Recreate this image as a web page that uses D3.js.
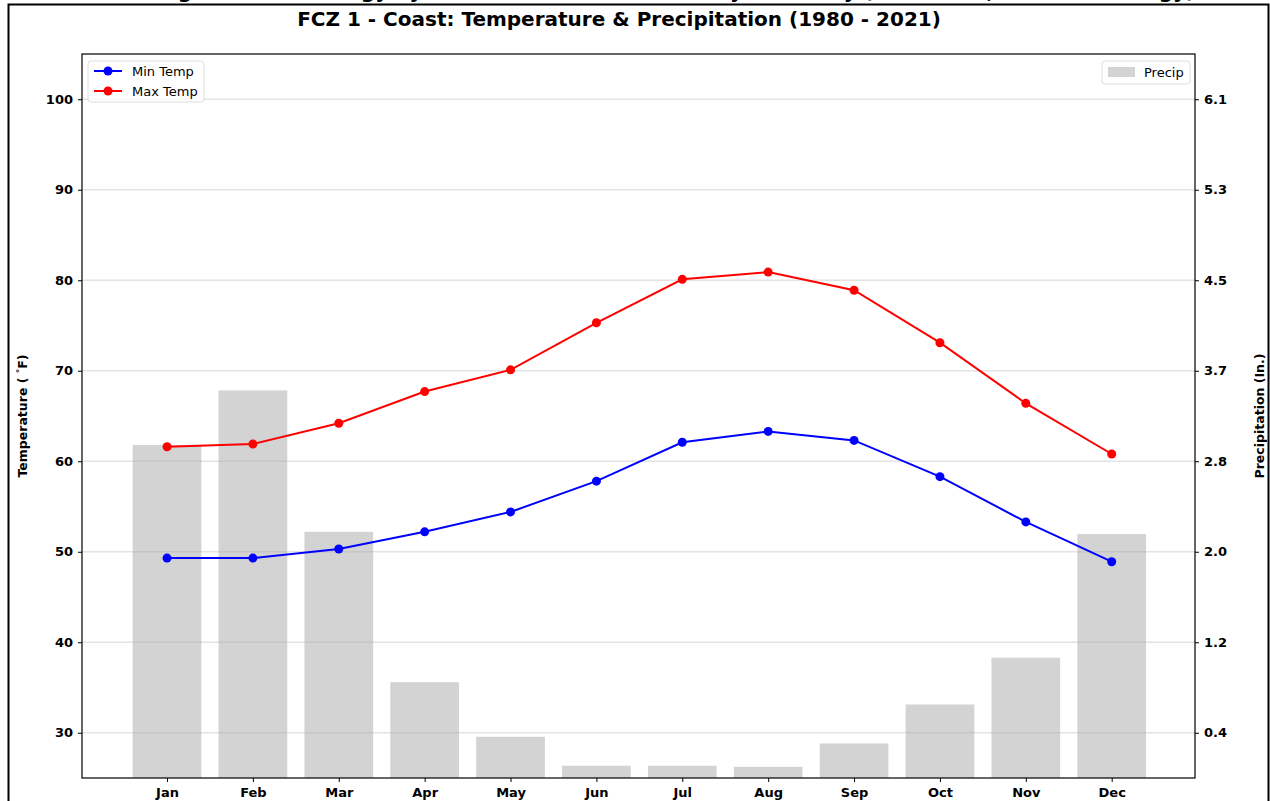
<!DOCTYPE html>
<html>
<head>
<meta charset="utf-8">
<script src="https://cdn.jsdelivr.net/npm/d3@7"></script>
<style>
  body { margin: 0; background: #fff; }
  svg { font-family: "DejaVu Sans", sans-serif; }
</style>
</head>
<body>
<div class="canvas"></div>
<script>
// data
const months = ['Jan', 'Feb', 'Mar', 'Apr', 'May', 'Jun', 'Jul', 'Aug', 'Sep', 'Oct', 'Nov', 'Dec'];
const minTemp = [49.3, 49.3, 50.3, 52.2, 54.4, 57.8, 62.1, 63.3, 62.3, 58.3, 53.3, 48.9];
const maxTemp = [61.6, 61.9, 64.2, 67.7, 70.1, 75.3, 80.1, 80.9, 78.9, 73.1, 66.4, 60.8];
const precip = [2.99, 3.48, 2.21, 0.86, 0.37, 0.11, 0.11, 0.10, 0.31, 0.66, 1.08, 2.19];
const tempTicks = [30, 40, 50, 60, 70, 80, 90, 100];

const width = 1270;
const height = 801;

// margins of the axes box
const margin = { top: 54, right: 75, bottom: 23, left: 82 };
const graphWidth = width - margin.left - margin.right;
const graphHeight = height - margin.top - margin.bottom;

const svg = d3.select('.canvas')
  .append('svg')
  .attr('width', width)
  .attr('height', height);

// outer frame (figure cropped from a bigger page)
svg.append('path')
  .attr('d', `M8.5,${height} V4.5 H1268.5 V${height}`)
  .attr('fill', 'none')
  .attr('stroke', '#000')
  .attr('stroke-width', 2);

// header of the page, cut off above the frame
svg.append('text')
  .attr('x', 672)
  .attr('y', -2)
  .attr('text-anchor', 'middle')
  .attr('font-size', 20)
  .attr('font-weight', 'bold')
  .text('Regional Climatology by Fire Climate Zone - Monthly Summary (FCZ 1 - 10, Fire Climatology)');

svg.append('text')
  .attr('x', 619)
  .attr('y', 26)
  .attr('text-anchor', 'middle')
  .attr('font-size', 20)
  .attr('font-weight', 'bold')
  .text('FCZ 1 - Coast: Temperature & Precipitation (1980 - 2021)');

const graph = svg.append('g')
  .attr('transform', `translate(${margin.left}, ${margin.top})`);

// scales
const x = d3.scaleLinear()
  .domain([0.01, 12.97])
  .range([0, graphWidth]);

const yTemp = d3.scaleLinear()
  .domain([25, 105])
  .range([graphHeight, 0]);

const yPrecip = d3.scaleLinear()
  .domain([0, 6.5])
  .range([graphHeight, 0]);

const barW = x(0.8) - x(0);

// precip bars
graph.selectAll('rect.bar')
  .data(precip)
  .enter()
  .append('rect')
    .attr('class', 'bar')
    .attr('x', (d, i) => x(i + 1) - barW / 2)
    .attr('width', barW)
    .attr('y', d => yPrecip(d))
    .attr('height', d => graphHeight - yPrecip(d))
    .attr('fill', '#d3d3d3');

// grid on top of the bars
graph.selectAll('line.grid')
  .data(tempTicks)
  .enter()
  .append('line')
    .attr('x1', 0)
    .attr('x2', graphWidth)
    .attr('y1', d => yTemp(d))
    .attr('y2', d => yTemp(d))
    .attr('stroke', '#b0b0b0')
    .attr('stroke-opacity', 0.35)
    .attr('stroke-width', 1.5);

// temperature lines
const series = [
  { name: 'Min Temp', values: minTemp, color: '#0000ff' },
  { name: 'Max Temp', values: maxTemp, color: '#ff0000' }
];

const line = d3.line()
  .x((d, i) => x(i + 1))
  .y(d => yTemp(d));

series.forEach(s => {
  graph.append('path')
    .attr('d', line(s.values))
    .attr('fill', 'none')
    .attr('stroke', s.color)
    .attr('stroke-width', 2);

  graph.selectAll(null)
    .data(s.values)
    .enter()
    .append('circle')
      .attr('cx', (d, i) => x(i + 1))
      .attr('cy', d => yTemp(d))
      .attr('r', 4.5)
      .attr('fill', s.color);
});

// axes
const xAxis = d3.axisBottom(x)
  .tickValues(d3.range(1, 13))
  .tickFormat(d => months[d - 1])
  .tickSizeInner(4)
  .tickSizeOuter(0)
  .tickPadding(6);

const yAxis = d3.axisLeft(yTemp)
  .tickValues(tempTicks)
  .tickSizeInner(4)
  .tickSizeOuter(0)
  .tickPadding(5);

// right ticks sit on the same rows as the temperature ticks
const yAxisRight = d3.axisRight(yPrecip)
  .tickValues(tempTicks.map(t => yPrecip.invert(yTemp(t))))
  .tickFormat(d3.format('.1f'))
  .tickSizeInner(4)
  .tickSizeOuter(0)
  .tickPadding(5);

const xAxisGroup = graph.append('g')
  .attr('transform', `translate(0, ${graphHeight})`)
  .call(xAxis);

const yAxisGroup = graph.append('g').call(yAxis);

const yAxisRightGroup = graph.append('g')
  .attr('transform', `translate(${graphWidth}, 0)`)
  .call(yAxisRight);

[xAxisGroup, yAxisGroup, yAxisRightGroup].forEach(g => {
  g.selectAll('text')
    .attr('font-family', '"DejaVu Sans", sans-serif')
    .attr('font-size', 13)
    .attr('font-weight', 'bold')
    .attr('fill', '#000');
  g.select('.domain').remove();
});

// axes box
graph.append('rect')
  .attr('width', graphWidth)
  .attr('height', graphHeight)
  .attr('fill', 'none')
  .attr('stroke', '#000')
  .attr('stroke-width', 1.2);

// axis titles
const leftTitle = svg.append('text')
  .attr('transform', `translate(27, ${margin.top + yTemp(65)}) rotate(-90)`)
  .attr('text-anchor', 'middle')
  .attr('font-size', 12.5)
  .attr('font-weight', 'bold');
leftTitle.append('tspan').text('Temperature ( ');
leftTitle.append('tspan').attr('dy', -4).attr('font-size', 9).text('\u00b0');
leftTitle.append('tspan').attr('dy', 4).text('F)');

svg.append('text')
  .attr('transform', `translate(1264, ${margin.top + yTemp(65)}) rotate(-90)`)
  .attr('text-anchor', 'middle')
  .attr('font-size', 12.5)
  .attr('font-weight', 'bold')
  .text('Precipitation (In.)');

// legends
const legendL = graph.append('g').attr('transform', 'translate(6, 7)');
legendL.append('rect')
  .attr('width', 116)
  .attr('height', 41)
  .attr('rx', 3)
  .attr('fill', '#fff')
  .attr('fill-opacity', 0.8)
  .attr('stroke', '#ddd');

series.forEach((s, i) => {
  const row = legendL.append('g').attr('transform', `translate(6, ${10 + i * 20})`);
  row.append('line')
    .attr('x1', 0).attr('x2', 28)
    .attr('stroke', s.color)
    .attr('stroke-width', 2);
  row.append('circle')
    .attr('cx', 14)
    .attr('r', 4.5)
    .attr('fill', s.color);
  row.append('text')
    .attr('x', 38)
    .attr('dy', '0.35em')
    .attr('font-size', 13)
    .text(s.name);
});

const legendR = graph.append('g').attr('transform', `translate(${graphWidth - 93}, 7)`);
legendR.append('rect')
  .attr('width', 88)
  .attr('height', 23)
  .attr('rx', 3)
  .attr('fill', '#fff')
  .attr('fill-opacity', 0.8)
  .attr('stroke', '#ddd');
legendR.append('rect')
  .attr('x', 6)
  .attr('y', 6)
  .attr('width', 27)
  .attr('height', 10)
  .attr('fill', '#d3d3d3');
legendR.append('text')
  .attr('x', 42)
  .attr('y', 11.5)
  .attr('dy', '0.35em')
  .attr('font-size', 13)
  .text('Precip');
</script>
</body>
</html>
